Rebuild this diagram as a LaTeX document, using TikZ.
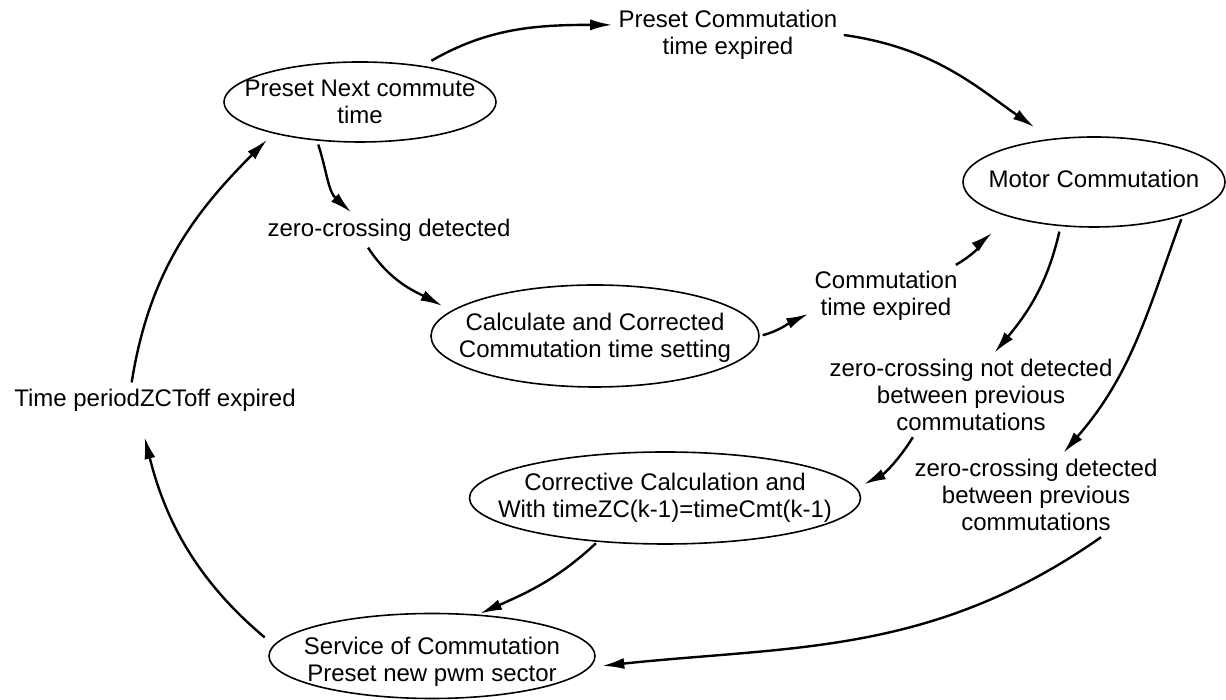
\documentclass[tikz,border=0pt]{standalone}
\usepackage{fontspec}
\setmainfont{Liberation Sans}
\usetikzlibrary{shapes.geometric, arrows.meta}

\newcommand{\stext}[2][-4.5pt]{\makebox[0pt]{\smash{\raisebox{#1}{\begin{tabular}{@{}c@{}}#2\end{tabular}}}}}

\tikzset{
	state/.style={draw, ellipse, line width=0.8pt, inner sep=0pt},
	lbl/.style={align=center, inner sep=3pt},
	trans/.style={-{Latex[length=11pt,width=5.5pt]}, line width=1.2pt},
}

\begin{document}
\begin{tikzpicture}[x=0.5pt, y=0.5pt, font=\fontsize{12}{13.5}\selectfont]
	\useasboundingbox (0,0) rectangle (1226,700);

	\node[state, minimum width=136pt, minimum height=40pt] (pnc) at (360,598) {\stext{Preset Next commute\\time}};
	\node[state, minimum width=131pt, minimum height=45pt] (mc) at (1094,518) {\stext[-3pt]{Motor Commutation}};
	\node[state, minimum width=164pt, minimum height=51pt] (calc) at (595,364) {\stext{Calculate and Corrected\\Commutation time setting}};
	\node[state, minimum width=195.5pt, minimum height=46pt] (corr) at (665,202) {\stext[-3.5pt]{Corrective Calculation and\\With timeZC(k-1)=timeCmt(k-1)}};
	\node[state, minimum width=163pt, minimum height=42.5pt] (svc) at (432,44) {\stext[-6.5pt]{Service of Commutation\\Preset new pwm sector}};

	\node[lbl] (lpct) at (728,665) {Preset Commutation\\time expired};
	\node[lbl] (lzcd) at (389,470) {zero-crossing detected};
	\node[lbl] (lcte) at (886,404) {Commutation\\time expired};
	\node[lbl] (lznd) at (971,305) {zero-crossing not detected\\between previous\\commutations};
	\node[lbl] (lzdb) at (1036,205) {zero-crossing detected\\between previous\\commutations};
	\node[lbl] (ltp) at (155,300) {Time periodZCToff expired};

	\draw[trans, shorten <=5pt] (pnc.30) to[out=30, in=180] (lpct.175);
	\draw[trans, shorten >=10pt] (lpct.east) to[out=-8, in=145] (mc.135);
	\draw[trans, shorten <=2pt] (pnc.222) to[out=-72, in=138] (lzcd.155);
	\draw[trans, shorten >=5pt] (lzcd.220) to[out=-57, in=152] (calc.170);
	\draw[trans, shorten <=1.5pt] (calc.east) to[out=15, in=205] (lcte.193);
	\draw[trans, shorten >=12pt] (lcte.24) to[out=30, in=220] (mc.203);
	\draw[trans, shorten <=2.75pt] (mc.233) to[out=-103, in=50] (lznd.61);
	\draw[trans, shorten >=4pt] (lznd.216) to[out=-122, in=27] (corr.3);
	\draw[trans, shorten <=1.75pt] (mc.339) to[out=-110, in=49] (lzdb.57);
	\draw[trans, shorten >=6pt] (lzdb.-33) to[out=-145, in=6] (svc.-4);
	\draw[trans, shorten <=1pt, shorten >=1pt] (corr.213) to[out=-137, in=24] (svc.42);
	\draw[trans, shorten <=5.85pt, shorten >=10pt] (svc.176) to[out=140, in=-76] (ltp.229);
	\draw[trans, shorten >=4.3pt] (ltp.143) to[out=81, in=225] (pnc.200);
\end{tikzpicture}
\end{document}
